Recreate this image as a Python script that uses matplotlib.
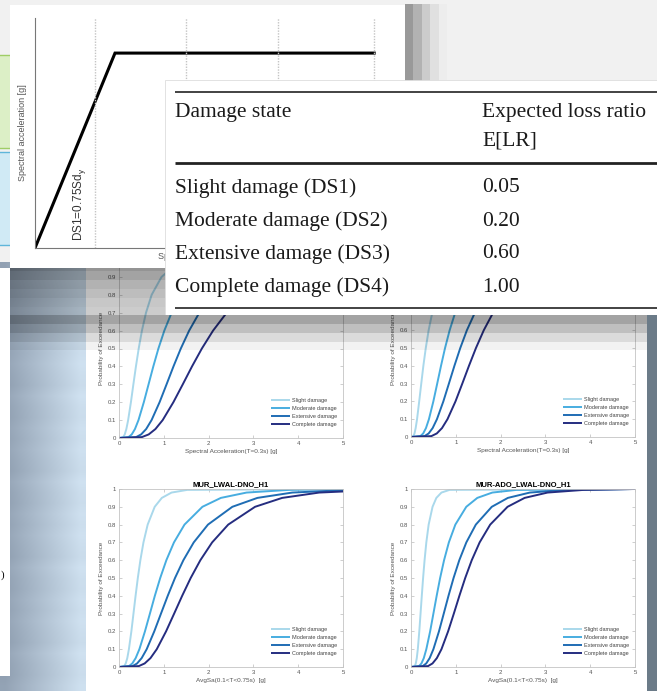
import numpy as np
import matplotlib.pyplot as plt
from matplotlib.patches import Rectangle
from matplotlib.ticker import FormatStrFormatter

W, H = 657, 691

# probabilities of exceedance at which the fragility curves were read
p_levels = [0.005, 0.02, 0.05, 0.1, 0.2, 0.3, 0.4, 0.5, 0.6, 0.7, 0.8, 0.9, 0.95, 0.98, 0.995]
damage_states = ["Slight damage", "Moderate damage", "Extensive damage", "Complete damage"]

# Sa(T=0.3s) [g] - MUR_LWAL-DNO_H1
sa03_lwal_slight = [0.094, 0.128, 0.164, 0.204, 0.266, 0.321, 0.378, 0.440, 0.512, 0.603, 0.729, 0.950, 1.181, 1.509, 2.064]
sa03_lwal_moderate = [0.213, 0.284, 0.356, 0.435, 0.554, 0.660, 0.766, 0.880, 1.012, 1.174, 1.398, 1.781, 2.175, 2.723, 3.629]
sa03_lwal_extensive = [0.381, 0.494, 0.606, 0.727, 0.906, 1.062, 1.216, 1.380, 1.566, 1.793, 2.102, 2.620, 3.141, 3.854, 5.003]
sa03_lwal_complete = [0.510, 0.663, 0.813, 0.975, 1.214, 1.424, 1.630, 1.850, 2.100, 2.404, 2.819, 3.512, 4.211, 5.166, 6.707]

# Sa(T=0.3s) [g] - MUR-ADO_LWAL-DNO_H1
sa03_ado_slight = [0.054, 0.078, 0.104, 0.135, 0.183, 0.229, 0.276, 0.330, 0.394, 0.476, 0.595, 0.810, 1.044, 1.390, 2.003]
sa03_ado_moderate = [0.210, 0.272, 0.334, 0.400, 0.499, 0.585, 0.670, 0.760, 0.863, 0.988, 1.158, 1.443, 1.730, 2.122, 2.755]
sa03_ado_extensive = [0.303, 0.394, 0.483, 0.579, 0.722, 0.846, 0.969, 1.100, 1.248, 1.429, 1.676, 2.088, 2.504, 3.072, 3.988]
sa03_ado_complete = [0.455, 0.576, 0.692, 0.814, 0.993, 1.145, 1.294, 1.450, 1.625, 1.836, 2.118, 2.582, 3.039, 3.653, 4.621]

# AvgSa(0.1<T<0.75s) [g] - MUR_LWAL-DNO_H1
avg_lwal_slight = [0.116, 0.150, 0.185, 0.221, 0.276, 0.323, 0.370, 0.420, 0.477, 0.546, 0.640, 0.797, 0.956, 1.173, 1.523]
avg_lwal_moderate = [0.223, 0.297, 0.372, 0.455, 0.579, 0.690, 0.800, 0.920, 1.057, 1.227, 1.462, 1.862, 2.274, 2.847, 3.794]
avg_lwal_extensive = [0.303, 0.404, 0.506, 0.618, 0.787, 0.937, 1.088, 1.250, 1.437, 1.668, 1.986, 2.530, 3.089, 3.869, 5.155]
avg_lwal_complete = [0.441, 0.573, 0.703, 0.843, 1.050, 1.231, 1.410, 1.600, 1.816, 2.079, 2.438, 3.037, 3.642, 4.468, 5.801]

# AvgSa(0.1<T<0.75s) [g] - MUR-ADO_LWAL-DNO_H1
avg_ado_slight = [0.085, 0.107, 0.129, 0.152, 0.185, 0.213, 0.241, 0.270, 0.303, 0.342, 0.394, 0.481, 0.566, 0.680, 0.860]
avg_ado_moderate = [0.179, 0.233, 0.286, 0.342, 0.427, 0.500, 0.573, 0.650, 0.738, 0.845, 0.990, 1.234, 1.480, 1.815, 2.357]
avg_ado_extensive = [0.262, 0.340, 0.417, 0.500, 0.624, 0.731, 0.837, 0.950, 1.078, 1.235, 1.447, 1.803, 2.162, 2.653, 3.444]
avg_ado_complete = [0.380, 0.480, 0.577, 0.680, 0.828, 0.956, 1.080, 1.210, 1.356, 1.532, 1.768, 2.155, 2.536, 3.048, 3.856]

# loss ratio table
table_states = ["Slight damage (DS1)", "Moderate damage (DS2)", "Extensive damage (DS3)", "Complete damage (DS4)"]
loss_ratios = [0.05, 0.20, 0.60, 1.00]

# capacity curve, Sd/Sdy vs Sa/Say
cap_sd = [0.0, 1.0, 4.24]
cap_sa = [0.0, 1.0, 1.0]
ds_thresholds = [0.75, 1.89, 3.04, 4.24]

colors = ["#a9d8eb", "#47ade0", "#1f6db4", "#252d80"]

plt.rcParams['font.family'] = ['Liberation Sans', 'DejaVu Sans']
plt.rcParams['mathtext.default'] = 'regular'

fig = plt.figure(figsize=(W / 100, H / 100), dpi=100)
fig.patch.set_facecolor('#f1f1f1')


def px_axes(l, t, r, b, z):
    ax = fig.add_axes([l / W, 1 - b / H, (r - l) / W, (b - t) / H])
    ax.set_zorder(z)
    return ax


def px_canvas(l, t, r, b, z):
    ax = px_axes(l, t, r, b, z)
    ax.set_xlim(l, r)
    ax.set_ylim(b, t)
    ax.axis('off')
    return ax


# ---- background (desktop, side panels) ----
bg = px_canvas(0, 0, W, H, 0)
bg.add_patch(Rectangle((-2, 55), 14, 93, fc='#dcefc6', ec='#9fcd66', lw=1))
bg.add_patch(Rectangle((-2, 152), 14, 93, fc='#d0eaf5', ec='#5fb6da', lw=1))
# shadow right of the capacity figure
shade = np.array([[0.60, 0.70, 0.80, 0.88, 0.93]])
bg.imshow(np.dstack([shade] * 3), extent=(405, 447, 82, 4), aspect='auto', interpolation='nearest')
# blue desktop strip on the left
cols = np.linspace(0, 1, 8)
dark = np.array([0.57, 0.63, 0.70])
light = np.array([0.80, 0.87, 0.93])
strip = dark[None, :] * (1 - cols[:, None]) + light[None, :] * cols[:, None]
rows = np.array([0.0, 0.012, 0.0, -0.008, 0.015, 0.0, -0.005, 0.01] * 5)
img = np.clip(strip[None, :, :] + rows[:, None, None], 0, 1)
bg.imshow(img, extent=(0, 86, 691, 262), aspect='auto', interpolation='bilinear')
bg.add_patch(Rectangle((-2, 268), 12, 408, fc='white', lw=0))
bg.text(1, 575, ")", fontsize=8, family='Liberation Serif', va='center', ha='left')
# white sheet holding the fragility plots
bg.add_patch(Rectangle((86, 262), 561, 429, fc='white', lw=0))
bg.add_patch(Rectangle((647, 315), 12, 380, fc='#6b7b88', lw=0))


# ---- fragility curves ----
def fragility(box, curves, xlabel, title=None):
    ax = px_axes(*box, 1)
    ax.set_facecolor('white')
    for sa, name, c in zip(curves, damage_states, colors):
        x = [0.0] + list(sa) + [max(5.0, sa[-1])]
        y = [0.0] + p_levels + [1.0]
        ax.plot(x, y, color=c, lw=1.4, label=name, solid_capstyle='butt')
    ax.set_xlim(0, 5)
    ax.set_ylim(0, 1)
    ax.set_xticks(range(6))
    ax.set_yticks(np.arange(0, 1.01, 0.1))
    ax.yaxis.set_major_formatter(FormatStrFormatter('%g'))
    ax.tick_params(direction='in', length=2, width=0.5, colors='#bbbbbb', labelcolor='#555555',
                   labelsize=4.3, top=True, right=True, pad=2)
    for s in ax.spines.values():
        s.set_color('#c4c4c4')
        s.set_linewidth(0.6)
    ax.set_xlabel(xlabel, fontsize=4.6, color='#555555', labelpad=2)
    ax.set_ylabel("Probability of Exceedance", fontsize=4.6, color='#555555', labelpad=3)
    if title:
        ax.set_title(title, fontsize=5.5, fontweight='bold', pad=2)
    ax.legend(loc='lower right', bbox_to_anchor=(0.985, 0.05), frameon=False, fontsize=4,
              handlelength=3.4, handletextpad=0.5, labelspacing=0.55, borderaxespad=0,
              labelcolor='#444444')
    return ax


fragility((119, 259, 343, 438),
          [sa03_lwal_slight, sa03_lwal_moderate, sa03_lwal_extensive, sa03_lwal_complete],
          "Spectral Acceleration(T=0.3s) [g]")
fragility((411, 259, 635, 437),
          [sa03_ado_slight, sa03_ado_moderate, sa03_ado_extensive, sa03_ado_complete],
          "Spectral Acceleration(T=0.3s) [g]")
fragility((119, 489, 343, 667),
          [avg_lwal_slight, avg_lwal_moderate, avg_lwal_extensive, avg_lwal_complete],
          "AvgSa(0.1<T<0.75s)  [g]", "MUR_LWAL-DNO_H1")
fragility((411, 489, 635, 667),
          [avg_ado_slight, avg_ado_moderate, avg_ado_extensive, avg_ado_complete],
          "AvgSa(0.1<T<0.75s)  [g]", "MUR-ADO_LWAL-DNO_H1")

# grey shading bands over the top of the fragility sheet
ov = px_canvas(0, 0, W, H, 2)
band_edges = [262, 271, 280, 289, 298, 307, 315, 324, 333, 342, 350]
band_alpha = [0.42, 0.36, 0.30, 0.26, 0.22, 0.20, 0.36, 0.25, 0.14, 0.05]
for y0, y1, a in zip(band_edges[:-1], band_edges[1:], band_alpha):
    ov.add_patch(Rectangle((10, y0), 637, y1 - y0, fc='black', alpha=a, lw=0))

# ---- capacity curve figure ----
cp = px_canvas(0, 0, W, H, 3)
cp.add_patch(Rectangle((10, 5), 395, 263, fc='white', lw=0))

cap = px_axes(35, 18, 385, 248, 4)
cap.patch.set_alpha(0)
cap.plot(cap_sd, cap_sa, color='black', lw=2.2, solid_joinstyle='miter')
cap.set_xlim(0, 4.375)
cap.set_ylim(0, 1.18)
cap.vlines(ds_thresholds, 0, 1.18, colors='#c4c4c4', linestyles=(0, (1, 1)), lw=1)
cap.set_xticks([])
cap.set_yticks([])
for side in ['top', 'right']:
    cap.spines[side].set_visible(False)
for side in ['left', 'bottom']:
    cap.spines[side].set_color('#777777')
    cap.spines[side].set_linewidth(0.8)
cap.set_ylabel("Spectral acceleration [g]", fontsize=6.5, color='#555555', labelpad=6)
cap.set_xlabel("Spectral displacement [m]", fontsize=6.5, color='#555555', labelpad=3)
cap.annotate("DS1=0.75Sd$_y$", xy=(ds_thresholds[0], 0), xytext=(-5, 5), textcoords='offset points',
             rotation=90, ha='right', va='bottom', fontsize=8.5, color='#333333')

# ---- loss ratio table ----
tb = px_canvas(165, 80, W, 315, 5)
tb.add_patch(Rectangle((165, 80), W - 165, 235, fc='white', ec='#dddddd', lw=0.6))
tb.hlines([92, 308], 175, W, colors='#222222', lw=1.2)
tb.hlines([163], 175, W, colors='#222222', lw=2.0)
serif = dict(family='Liberation Serif', fontsize=15.5, color='#1a1a1a', va='center')
tb.text(175, 113, "Damage state", **serif)
tb.text(482, 113, "Expected loss ratio", **serif)
tb.text(482, 141, "E[LR]", **serif)
for i, (state, lr) in enumerate(zip(table_states, loss_ratios)):
    y = 188 + i * 33
    tb.text(175, y, state, **serif)
    tb.text(482, y, f"{lr:.2f}", **serif)

fig.savefig("out.png", dpi=100, facecolor=fig.get_facecolor())
